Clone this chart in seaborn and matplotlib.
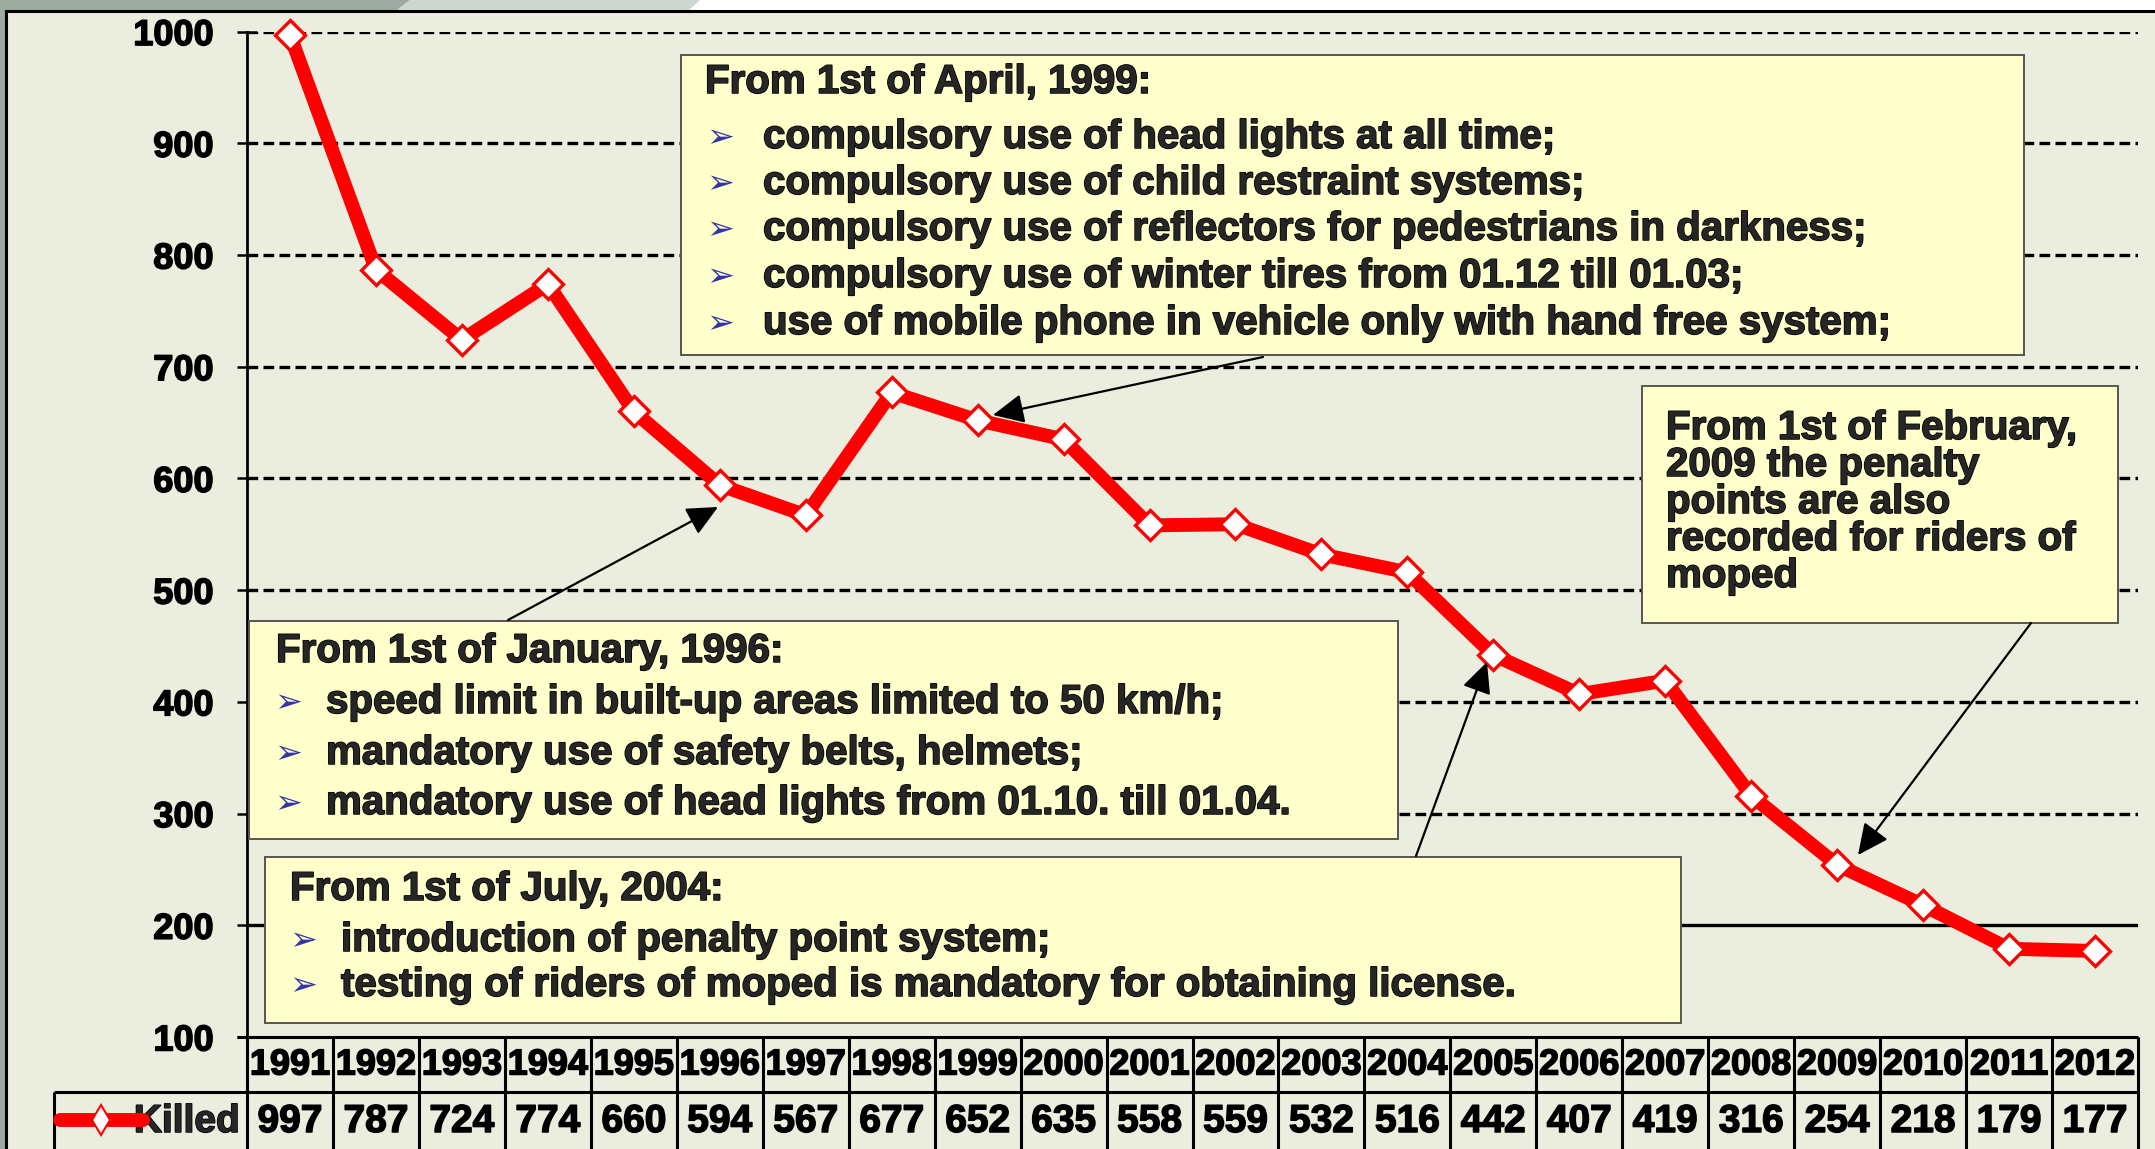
import matplotlib
matplotlib.use("Agg")
import matplotlib.pyplot as plt
import matplotlib.patheffects as pe
from matplotlib.lines import Line2D
from matplotlib.patches import Rectangle, Polygon, FancyArrowPatch
import numpy as np
import pandas as pd
import seaborn as sns

# data
years = ["1991", "1992", "1993", "1994", "1995", "1996", "1997", "1998", "1999", "2000", "2001",
         "2002", "2003", "2004", "2005", "2006", "2007", "2008", "2009", "2010", "2011", "2012"]
killed = [997, 787, 724, 774, 660, 594, 567, 677, 652, 635, 558,
          559, 532, 516, 442, 407, 419, 316, 254, 218, 179, 177]
y_ticks = [100, 200, 300, 400, 500, 600, 700, 800, 900, 1000]
series_name = "Killed"

note_1999_title = "From 1st of April, 1999:"
note_1999_items = ["compulsory use of head lights at all time;",
                   "compulsory use of child restraint systems;",
                   "compulsory use of reflectors for pedestrians in darkness;",
                   "compulsory use of winter tires from 01.12 till 01.03;",
                   "use of mobile phone in vehicle only with hand free system;"]
note_1996_title = "From 1st of January, 1996:"
note_1996_items = ["speed limit in built-up areas limited to 50 km/h;",
                   "mandatory use of safety belts, helmets;",
                   "mandatory use of head lights from 01.10. till 01.04."]
note_2004_title = "From 1st of July, 2004:"
note_2004_items = ["introduction of penalty point system;",
                   "testing of riders of moped is mandatory for obtaining license."]
note_2009_lines = ["From 1st of February,", "2009 the penalty", "points are also",
                   "recorded for riders of", "moped"]

W, H = 2155, 1149
AX_L, AX_R, AX_T, AX_B = 247, 2138, 31.6, 1037
heavy = [pe.withStroke(linewidth=1.1, foreground="black")]


def fx(x):
    return x / W


def fy(y):
    return 1 - y / H


def ay(y):
    # pixel row -> axes fraction of the plot area
    return (AX_B - y) / (AX_B - AX_T)


sns.set_theme(style="white")
plt.rcParams['font.family'] = ['Liberation Sans', 'DejaVu Sans']
plt.rcParams['font.weight'] = 'bold'

fig = plt.figure(figsize=(W / 100, H / 100), dpi=100)
fig.patch.set_facecolor("white")

# slide background bits and chart frame
fig.add_artist(Polygon([(0, 1), (fx(410), 1), (fx(396), fy(11)), (fx(6), fy(11)), (fx(6), 0), (0, 0)],
                       closed=True, transform=fig.transFigure, fc="#9DAAA0", ec="none", zorder=-3))
fig.add_artist(Polygon([(fx(410), 1), (fx(700), 1), (fx(688), fy(11)), (fx(396), fy(11))],
                       closed=True, transform=fig.transFigure, fc="#CDD6D1", ec="none", zorder=-3))
fig.add_artist(Rectangle((fx(6), fy(1170)), fx(2200), fy(11) - fy(1170), transform=fig.transFigure,
                         fc="#EBEEDF", ec="black", lw=2.2, zorder=-2))

ax = fig.add_axes([fx(AX_L), fy(AX_B), (AX_R - AX_L) / W, (AX_B - AX_T) / H])
ax.set_facecolor("none")

df = pd.DataFrame({"pos": np.arange(len(years)), "killed": killed})
sns.lineplot(data=df, x="pos", y="killed", ax=ax, color="#FF0000", linewidth=10,
             marker="D", markersize=15.5, markerfacecolor="white", markeredgecolor="#FF0000",
             markeredgewidth=2.4, solid_joinstyle="round", solid_capstyle="round", zorder=5,
             clip_on=False)

ax.set_xlim(-0.5, len(years) - 0.5)
ax.set_ylim(y_ticks[0], y_ticks[-1])
ax.set_yticks(y_ticks)
ax.set_xticks([])
ax.set_xlabel("")
ax.set_ylabel("")
for s in ["top", "right", "bottom"]:
    ax.spines[s].set_visible(False)
ax.spines["left"].set_color("black")
ax.spines["left"].set_linewidth(2)
ax.tick_params(axis="y", left=True, direction="inout", length=14, width=1.8, pad=17,
               labelsize=26, color="black", labelcolor="black")
for lab in ax.get_yticklabels():
    lab.set_fontweight("bold")
    lab.set_path_effects(heavy)

# horizontal grid
for v in y_ticks[1:]:
    if v == 200:
        ax.axhline(v, color="black", lw=2.4, zorder=1)
    else:
        ax.axhline(v, color="black", lw=2.4, ls=(0, (3.2, 1.6)), zorder=1)

# data table under the plot
xtr = ax.get_xaxis_transform()
cell_w = (AX_R - AX_L) / len(years)
leg_x0 = -0.5 + (54 - AX_L) / cell_w
ax.hlines(0, -0.5 - 10 / cell_w, len(years) - 0.5, transform=xtr, color="black", lw=2.2, clip_on=False)
ax.hlines(ay(1092), leg_x0, len(years) - 0.5, transform=xtr, color="black", lw=2.2, clip_on=False)
ax.vlines(np.arange(len(years) + 1) - 0.5, ay(1170), 0, transform=xtr, color="black", lw=2.2, clip_on=False)
ax.vlines([leg_x0], ay(1170), ay(1092), transform=xtr, color="black", lw=2.2, clip_on=False)
for i, (yr, k) in enumerate(zip(years, killed)):
    ax.text(i, ay(1065), yr, transform=xtr, ha="center", va="center", fontsize=26,
            fontweight="bold", color="black", clip_on=False, path_effects=heavy)
    ax.text(i, ay(1122), str(k), transform=xtr, ha="center", va="center", fontsize=28,
            fontweight="bold", color="black", clip_on=False, path_effects=heavy)

fig.add_artist(Line2D([fx(60), fx(143)], [fy(1120), fy(1120)], color="#FF0000", lw=10,
                      solid_capstyle="round", zorder=4))
fig.add_artist(Line2D([fx(101)], [fy(1120)], marker="d", markersize=15, markerfacecolor="white",
                      markeredgecolor="#FF0000", markeredgewidth=1.5, zorder=4))
fig.text(fx(240), fy(1122), series_name, ha="right", va="center", fontsize=28, fontweight="bold",
         path_effects=heavy)


def note_box(x0, y0, x1, y1):
    fig.add_artist(Rectangle((fx(x0), fy(y1)), fx(x1) - fx(x0), fy(y0) - fy(y1),
                             transform=fig.transFigure, fc="#FFFFCC", ec="#555555", lw=1.4, zorder=2))


def bullet_list(title, items, tx, ty, bx, ix, iys):
    fig.text(fx(tx), fy(ty), title, ha="left", va="center", fontsize=29, fontweight="bold", zorder=3,
             path_effects=heavy)
    for item, iy in zip(items, iys):
        fig.text(fx(bx), fy(iy + 1), "\u27a2", ha="left", va="center", fontsize=24, color="#3333AA",
                 family=["DejaVu Sans"], fontweight="normal", zorder=3)
        fig.text(fx(ix), fy(iy), item, ha="left", va="center", fontsize=29, fontweight="bold", zorder=3,
                 path_effects=heavy)


def arrow(x0, y0, x1, y1):
    fig.add_artist(FancyArrowPatch((fx(x0), fy(y0)), (fx(x1), fy(y1)), transform=fig.transFigure,
                                   arrowstyle="-|>,head_length=0.95,head_width=0.45", mutation_scale=20,
                                   shrinkA=0, shrinkB=0, color="black", lw=1.6, zorder=4))


note_box(681, 55, 2024, 355)
bullet_list(note_1999_title, note_1999_items, 705, 82, 706, 763, [137, 183, 229, 276, 323])

note_box(249, 621, 1398, 839)
bullet_list(note_1996_title, note_1996_items, 276, 651, 274, 326, [702, 753, 803])

note_box(265, 857, 1681, 1023)
bullet_list(note_2004_title, note_2004_items, 290, 889, 289, 341, [940, 985])

note_box(1642, 386, 2118, 623)
for line, ly in zip(note_2009_lines, [428, 465, 502, 539, 576]):
    fig.text(fx(1666), fy(ly), line, ha="left", va="center", fontsize=29, fontweight="bold", zorder=3,
             path_effects=heavy)

arrow(1263, 357, 993, 415)
arrow(508, 620, 718, 507)
arrow(1416, 856, 1487, 662)
arrow(2031, 623, 1858, 855)

fig.savefig("out.png", dpi=100)
